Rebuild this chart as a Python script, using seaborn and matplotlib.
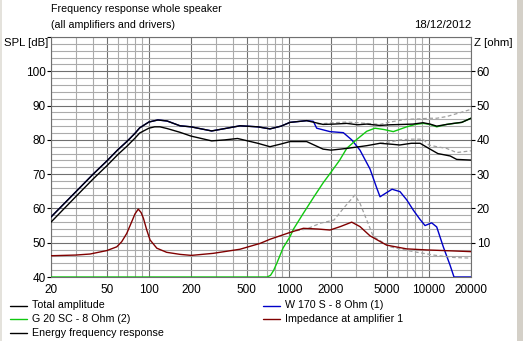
import matplotlib
matplotlib.use("Agg")
import matplotlib.pyplot as plt
import seaborn as sns
import pandas as pd
from matplotlib.ticker import FixedLocator, FixedFormatter, NullFormatter
from matplotlib.lines import Line2D
from matplotlib.patches import Rectangle

# ---- data -----------------------------------------------------------------
# Total amplitude (SPL, dB)
total_freq = [20, 30, 40, 50, 60, 70, 80, 86, 100, 116, 135, 167, 200, 281, 350,
              448, 600, 733, 880, 1019, 1340, 1754, 2100, 2589, 3100, 3598, 4480,
              5276, 6500, 7700, 9080, 10200, 11380, 13400, 15000, 17170, 20000]
total_spl = [57.5, 64.8, 70.0, 73.8, 77.1, 79.6, 82.0, 83.5, 85.2, 85.8, 85.5, 84.1,
             83.8, 82.6, 83.3, 84.1, 83.8, 83.2, 84.0, 85.1, 85.6, 84.5, 84.6, 84.8,
             84.4, 84.6, 84.2, 84.4, 84.5, 84.6, 85.0, 84.6, 84.0, 84.5, 84.8, 85.1, 86.3]

# Energy frequency response (SPL, dB)
energy_freq = [20, 30, 40, 50, 60, 70, 80, 86, 100, 110, 120, 135, 167, 200, 281,
               350, 430, 600, 733, 880, 1019, 1340, 1754, 2000, 2589, 3598, 4480,
               5500, 6190, 7500, 8660, 10000, 11600, 14200, 15800, 20000]
energy_spl = [56.0, 63.4, 68.6, 72.4, 75.7, 78.2, 80.6, 82.0, 83.4, 83.8, 83.8, 83.3,
              82.2, 81.1, 79.7, 80.0, 80.4, 79.0, 78.0, 78.8, 79.5, 79.5, 77.3, 77.0,
              77.5, 78.3, 79.0, 78.7, 78.5, 79.0, 79.0, 77.5, 76.0, 75.3, 74.3, 74.1]

# W 170 S - 8 Ohm (1), woofer
woofer_freq = [20, 30, 40, 50, 60, 70, 80, 86, 100, 116, 135, 167, 200, 281, 350,
               448, 600, 733, 880, 1019, 1340, 1495, 1581, 1968, 2449, 2812, 3221,
               3800, 4240, 4480, 4944, 5457, 6221, 6948, 7744, 8645, 9390, 10470,
               11380, 12680, 14160, 15120, 20000]
woofer_spl = [57.5, 64.8, 70.0, 73.8, 77.1, 79.6, 82.0, 83.5, 85.2, 85.8, 85.5, 84.1,
              83.8, 82.6, 83.3, 84.1, 83.8, 83.2, 84.0, 85.1, 85.6, 85.4, 83.4, 82.4,
              82.1, 80.0, 77.0, 71.5, 66.0, 63.4, 64.5, 65.6, 64.9, 62.5, 59.5, 56.8,
              55.0, 55.8, 54.6, 48.8, 43.5, 40.0, 40.0]

# G 20 SC - 8 Ohm (2), tweeter
tweeter_freq = [20, 700, 740, 780, 820, 910, 1020, 1080, 1270, 1500, 1760, 1970,
                2300, 2590, 3050, 3600, 4120, 4800, 5570, 6950, 8000, 9130, 10200,
                11380, 13400, 17170, 20000]
tweeter_spl = [40.0, 40.0, 40.5, 42.0, 44.0, 48.5, 51.8, 54.0, 58.6, 63.2, 67.5, 70.2,
               74.0, 77.5, 80.1, 82.5, 83.4, 83.0, 82.4, 83.8, 84.5, 84.8, 84.5, 83.8,
               84.5, 85.1, 86.3]

# Impedance at amplifier 1 (ohm)
imp_freq = [20, 30, 38, 50, 59, 64, 69.5, 75.4, 79.6, 84, 88, 91.5, 96.6, 102, 114,
            134, 167, 201, 288, 448, 623, 733, 1019, 1270, 1600, 1968, 2330, 2812,
            3221, 3800, 4990, 6948, 9600, 15000, 20000]
imp_ohm = [6.2, 6.4, 6.7, 7.7, 8.8, 10.3, 12.7, 16.1, 18.4, 19.8, 18.8, 17.1, 13.7,
           10.8, 8.4, 7.2, 6.6, 6.3, 6.9, 8.1, 9.8, 11.0, 13.0, 14.2, 14.0, 13.7,
           14.7, 16.0, 14.7, 12.0, 9.3, 8.2, 7.9, 7.6, 7.4]

# Comparison traces (grey dashed)
ref_total_freq = [1600, 2100, 2589, 3100, 3598, 4480, 5276, 6950, 8500, 10000,
                  11380, 13400, 16000, 20000]
ref_total_spl = [84.6, 85.0, 85.2, 85.0, 84.8, 84.5, 85.2, 86.0, 86.1, 86.3, 86.3,
                 86.8, 87.7, 88.9]
ref_energy_freq = [4480, 5500, 6190, 7500, 9080, 10000, 11380, 13400, 15800, 20000]
ref_energy_spl = [79.0, 79.5, 80.0, 80.2, 80.2, 78.5, 78.0, 77.5, 76.3, 76.8]
ref_imp_freq = [1130, 1340, 1680, 2100, 2450, 2960, 3221, 3600, 4010, 5276, 7744,
                10800, 15000, 20000]
ref_imp_ohm = [13.5, 14.0, 15.7, 16.6, 20.0, 23.9, 21.5, 16.6, 11.8, 8.8, 7.4, 6.4,
               5.7, 5.5]

# axis tick values
x_major = [20, 50, 100, 200, 500, 1000, 2000, 5000, 10000, 20000]
x_minor = [30, 40, 60, 70, 80, 90, 300, 400, 600, 700, 800, 900,
           3000, 4000, 6000, 7000, 8000, 9000]
spl_ticks = [40, 50, 60, 70, 80, 90, 100]
z_ticks = [10, 20, 30, 40, 50, 60]

# colours
C_BLACK = "#000000"
C_BLUE = "#0000c8"
C_GREEN = "#10c810"
C_RED = "#800000"
C_GREY = "#a0a0a0"
C_MAJOR = "#707070"
C_MINOR = "#ababab"

TXT = 7.7   # caption / legend text size
NUM = 8.5   # tick label size

# ---- figure ---------------------------------------------------------------
sns.set_theme(style="white")
plt.rcParams["font.family"] = ["Liberation Sans", "DejaVu Sans"]
plt.rcParams["font.size"] = 8

W, H = 523, 341
fig = plt.figure(figsize=(W / 100, H / 100), dpi=100)
fig.patch.set_facecolor("white")
ax = fig.add_axes([51 / W, 1 - 277 / H, 420 / W, 240 / H])
ax.set_facecolor("white")
ax.set_xscale("log")
ax2 = ax.twinx()


def trace(axis, freq, vals, color, lw=1.0, dashed=False, z=2):
    df = pd.DataFrame({"f": freq, "v": vals})
    kw = dict(linestyle=(0, (3, 2))) if dashed else {}
    sns.lineplot(data=df, x="f", y="v", ax=axis, color=color, lw=lw,
                 estimator=None, sort=False, zorder=z, **kw)


# SPL curves on the left axis
trace(ax, ref_total_freq, ref_total_spl, C_GREY, lw=0.9, dashed=True, z=2)
trace(ax, ref_energy_freq, ref_energy_spl, C_GREY, lw=0.9, dashed=True, z=2)
trace(ax, woofer_freq, woofer_spl, C_BLUE, z=3)
trace(ax, tweeter_freq, tweeter_spl, C_GREEN, z=3)
trace(ax, energy_freq, energy_spl, C_BLACK, z=4)
trace(ax, total_freq, total_spl, C_BLACK, z=4)

# impedance on the right axis
trace(ax2, ref_imp_freq, ref_imp_ohm, C_GREY, lw=0.9, dashed=True, z=2)
trace(ax2, imp_freq, imp_ohm, C_RED, z=3)

# ---- axes formatting --------------------------------------------------------
ax.set_xlim(20, 20000)
ax.set_ylim(40, 110)
ax2.set_ylim(0, 70)
for a in (ax, ax2):
    a.set_xlabel("")
    a.set_ylabel("")

ax.xaxis.set_major_locator(FixedLocator(x_major))
ax.xaxis.set_major_formatter(FixedFormatter([str(v) for v in x_major]))
ax.xaxis.set_minor_locator(FixedLocator(x_minor))
ax.xaxis.set_minor_formatter(NullFormatter())
ax.yaxis.set_major_locator(FixedLocator(spl_ticks + [110]))
ax.yaxis.set_major_formatter(FixedFormatter([str(v) for v in spl_ticks] + [""]))
ax.yaxis.set_minor_locator(FixedLocator([v for v in range(42, 110, 2) if v % 10]))

ax.set_axisbelow(True)
ax.grid(which="major", color=C_MAJOR, lw=0.8)
ax.grid(which="minor", color=C_MINOR, lw=0.8)
ax.tick_params(axis="x", which="both", length=0, pad=5, labelsize=NUM, colors="black")
ax.tick_params(axis="y", which="major", length=3, width=0.8, direction="out",
               pad=1, labelsize=NUM, colors="black", left=True)
ax.tick_params(axis="y", which="minor", length=0)
for s in ax.spines.values():
    s.set_color(C_MAJOR)
    s.set_linewidth(0.8)

ax2.yaxis.set_major_locator(FixedLocator(z_ticks))
ax2.yaxis.set_major_formatter(FixedFormatter([str(v) for v in z_ticks]))
ax2.yaxis.set_minor_locator(FixedLocator([]))
ax2.tick_params(axis="y", which="major", length=3, width=0.8, direction="out",
                pad=1, labelsize=NUM, colors="black", right=True)
ax2.grid(False)
for s in ax2.spines.values():
    s.set_visible(False)


# ---- texts ----------------------------------------------------------------
def ftext(x, y, s, ha="left", size=TXT):
    fig.text(x / W, 1 - y / H, s, ha=ha, va="center", fontsize=size, color="black")


ftext(51, 9.5, "Frequency response whole speaker")
ftext(51, 25.5, "(all amplifiers and drivers)")
ftext(471, 25.5, "18/12/2012", ha="right", size=8.2)
ftext(4, 42.5, "SPL [dB]", size=8.2)
ftext(474, 42.5, "Z [ohm]", size=8.2)

# legend
legend_items = [
    (10, 305.5, C_BLACK, "Total amplitude"),
    (10, 319.0, C_GREEN, "G 20 SC - 8 Ohm (2)"),
    (10, 332.5, C_BLACK, "Energy frequency response"),
    (263, 305.5, C_BLUE, "W 170 S - 8 Ohm (1)"),
    (263, 319.0, C_RED, "Impedance at amplifier 1"),
]
for x0, y0, col, label in legend_items:
    fig.add_artist(Line2D([x0 / W, (x0 + 17) / W], [1 - y0 / H, 1 - y0 / H],
                          color=col, lw=1.0, transform=fig.transFigure))
    ftext(x0 + 22, y0, label)

# window edge
fig.add_artist(Rectangle((517 / W, 0), 6 / W, 1, transform=fig.transFigure,
                         facecolor="#d4d0c8", edgecolor="none"))
fig.add_artist(Rectangle((0, 0), 2 / W, 1, transform=fig.transFigure,
                         facecolor="#e4e2dc", edgecolor="none"))

fig.savefig("out.png", dpi=100, facecolor="white")
